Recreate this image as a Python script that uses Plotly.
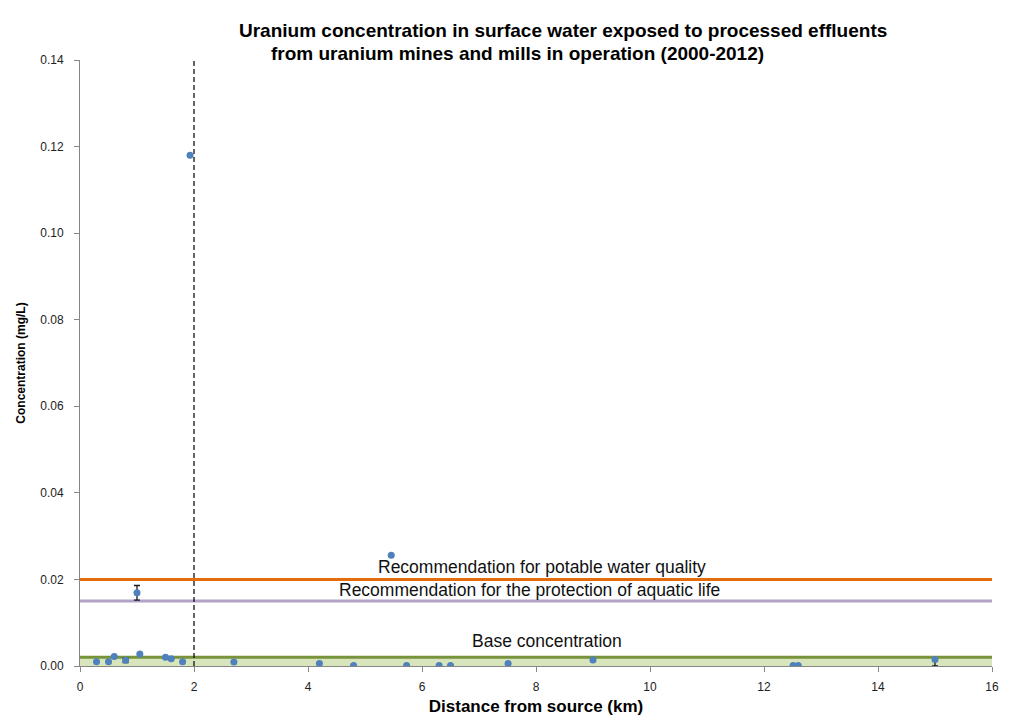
import plotly.graph_objects as go

# Measured uranium concentrations vs. distance downstream
distance_km = [0.29, 0.50, 0.60, 0.80, 1.00, 1.05, 1.50, 1.60, 1.80, 1.93,
               2.70, 4.20, 4.80, 5.46, 5.73, 6.30, 6.50, 7.51, 9.00,
               12.51, 12.60, 15.00]
concentration_mgl = [0.0010, 0.0010, 0.0022, 0.0013, 0.0169, 0.0028, 0.0020, 0.0017, 0.0010, 0.1180,
                     0.0009, 0.0006, 0.0001, 0.0256, 0.0001, 0.0001, 0.0001, 0.0006, 0.0014,
                     0.0001, 0.0001, 0.0015]
err_plus = [0, 0, 0, 0.0005, 0.0017, 0, 0, 0, 0, 0,
            0, 0, 0, 0, 0, 0, 0, 0, 0,
            0, 0, 0]
err_minus = [0, 0, 0, 0.0005, 0.0017, 0, 0, 0, 0, 0,
             0, 0, 0, 0, 0, 0, 0, 0, 0,
             0, 0, 0.0015]

# Reference levels (mg/L)
potable_guideline = 0.020
aquatic_guideline = 0.015
base_concentration = 0.002
reference_distance_km = 2.0

x_span = [0, 16]
band_span = [0, 16.08]
y_max = 0.14

label_font = "Liberation Sans, Arial, sans-serif"

fig = go.Figure()

# Base concentration band
fig.add_trace(go.Scatter(
    x=band_span, y=[base_concentration, base_concentration],
    mode="lines", fill="tozeroy", fillcolor="#d8e4bc",
    line=dict(color="#77933c", width=3), hoverinfo="skip", showlegend=False))

# Guideline lines
fig.add_trace(go.Scatter(
    x=x_span, y=[potable_guideline, potable_guideline], mode="lines",
    line=dict(color="#e46c0a", width=3), hoverinfo="skip", showlegend=False))
fig.add_trace(go.Scatter(
    x=x_span, y=[aquatic_guideline, aquatic_guideline], mode="lines",
    line=dict(color="#b3a2c7", width=3), hoverinfo="skip", showlegend=False))

# Vertical dashed reference at 2 km
fig.add_trace(go.Scatter(
    x=[reference_distance_km, reference_distance_km], y=[0, y_max], mode="lines",
    line=dict(color="#111111", width=1.3, dash="5px,3px"), hoverinfo="skip", showlegend=False))

# Measurements
fig.add_trace(go.Scatter(
    x=distance_km, y=concentration_mgl, mode="markers",
    marker=dict(color="#4f81bd", size=7),
    error_y=dict(type="data", symmetric=False, array=err_plus, arrayminus=err_minus,
                 color="#1a1a1a", thickness=1.3, width=3),
    showlegend=False))

annotations = [
    dict(x=8.1, y=0.0229, xref="x", yref="y", text="Recommendation for potable water quality",
         showarrow=False, font=dict(family=label_font, size=17.5, color="#111")),
    dict(x=7.88, y=0.0176, xref="x", yref="y", text="Recommendation for the protection of aquatic life",
         showarrow=False, font=dict(family=label_font, size=17.5, color="#111")),
    dict(x=8.2, y=0.0058, xref="x", yref="y", text="Base concentration",
         showarrow=False, font=dict(family=label_font, size=17.5, color="#111")),
    dict(x=0.5296, y=1.069, xref="paper", yref="paper",
         text="<b>Uranium concentration in surface water exposed to processed effluents</b>",
         showarrow=False, font=dict(family=label_font, size=19, color="#000")),
    dict(x=0.480, y=1.031, xref="paper", yref="paper",
         text="<b>from uranium mines and mills in operation (2000-2012)</b>",
         showarrow=False, font=dict(family=label_font, size=19, color="#000")),
]

fig.update_layout(
    width=1015, height=718,
    margin=dict(l=80, r=23, t=60, b=52),
    paper_bgcolor="white", plot_bgcolor="white",
    annotations=annotations,
    xaxis=dict(
        range=x_span, dtick=2, tick0=0, showgrid=False, zeroline=False, automargin=False,
        showline=True, linecolor="#868686", linewidth=1,
        ticks="outside", ticklen=5, tickcolor="#868686", ticklabelstandoff=5,
        tickfont=dict(family=label_font, size=12, color="#222"),
        title=dict(text="<b>Distance from source (km)</b>", standoff=6,
                   font=dict(family=label_font, size=17, color="#000"))),
    yaxis=dict(
        range=[0, y_max], dtick=0.02, tick0=0, tickformat=".2f", showgrid=False, zeroline=False,
        automargin=False,
        showline=True, linecolor="#868686", linewidth=1,
        ticks="outside", ticklen=5, tickcolor="#868686", ticklabelstandoff=8,
        tickfont=dict(family=label_font, size=12, color="#222"),
        title=dict(text="<b>Concentration (mg/L)</b>", standoff=12,
                   font=dict(family=label_font, size=12, color="#000"))),
)

fig.write_html("out.html")
